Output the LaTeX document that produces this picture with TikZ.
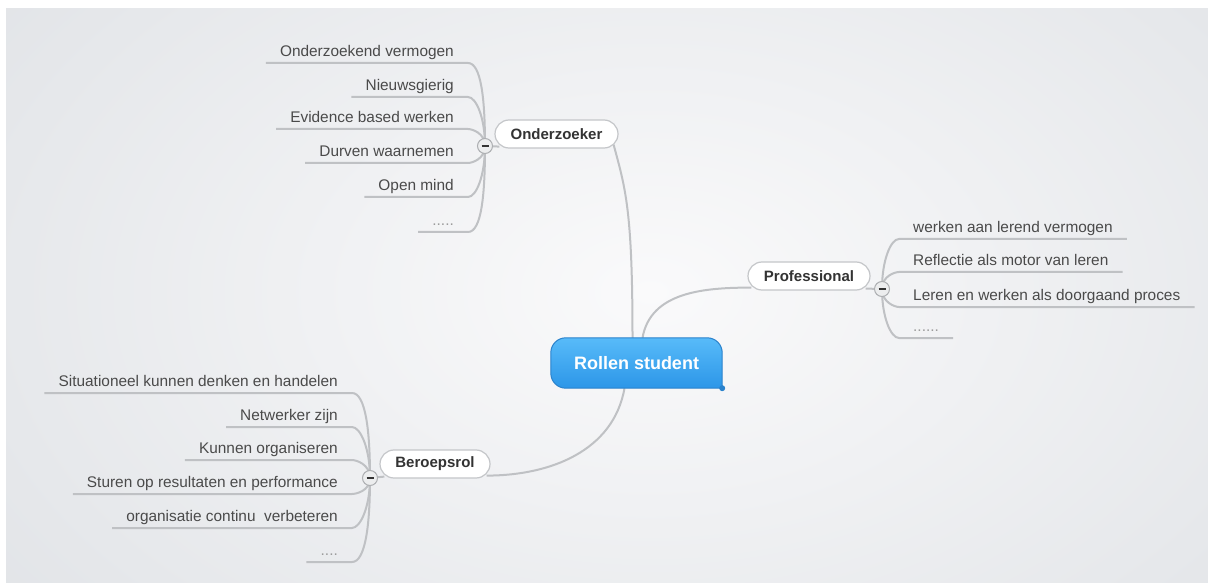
\documentclass[tikz,border=0pt]{standalone}
\usepackage{fontspec}
\setmainfont{Liberation Sans}
\usetikzlibrary{backgrounds}
\definecolor{bggray}{HTML}{DCDFE3}
\definecolor{bglight}{HTML}{FAFAFB}
\definecolor{linegray}{HTML}{BFC1C4}
\definecolor{leafgray}{HTML}{4A4A4A}
\definecolor{topicgray}{HTML}{333333}
\definecolor{pillgray}{HTML}{C4C6C9}
\definecolor{hubgray}{HTML}{ADAFB2}
\definecolor{hubfill}{HTML}{ECEDEE}
\definecolor{rootlight}{HTML}{58BBF9}
\definecolor{rootdark}{HTML}{2C96E8}
\definecolor{rootedge}{HTML}{2A82CC}

\begin{document}
\begin{tikzpicture}[x=1pt, y=1pt,
    branch/.style={draw=linegray, line width=2pt},
    leaf/.style={inner xsep=14pt, inner ysep=3pt, text height=11pt, text depth=3pt,
        font=\fontsize{15.4}{18}\selectfont, text=leafgray},
    dots/.style={leaf, text=leafgray!55},
    topic/.style={draw=pillgray, fill=white, rounded corners=14pt, minimum height=28pt,
        inner xsep=0pt, line width=1.2pt, font=\fontsize{15}{18}\selectfont\bfseries, text=topicgray},
    hub/.style={circle, draw=hubgray, fill=hubfill, minimum size=15pt, inner sep=0pt, line width=1pt,
        path picture={\draw[line width=1.6pt, topicgray] (path picture bounding box.center) +(-3.5pt,0) -- +(3.5pt,0);}},
    toleft/.style={in=0, out looseness=1.4, in looseness=0.4},
    toright/.style={in=180, out looseness=1.4, in looseness=0.4}]
    \useasboundingbox (0,0) rectangle (1208,582);
    % background panel
    \begin{scope}[on background layer]
        \fill[white] (0,0) rectangle (1208,582);
        \begin{scope}
            \clip (6,0) rectangle (1208,573);
            \fill[bggray] (6,0) rectangle (1208,573);
            \shade[inner color=bglight, outer color=bggray] (650,290) ellipse [x radius=1000, y radius=640];
        \end{scope}
    \end{scope}

    % central topic and main branches
    \node [minimum width=171pt, minimum height=50pt, inner sep=0pt, text=white,
        font=\fontsize{18}{22}\selectfont\bfseries, name=root] at (636.5, 219) {Rollen student};
    \node [topic, minimum width=123pt, name=ond] at (556.5, 448) {Onderzoeker};
    \node [topic, minimum width=122pt, name=prof] at (809, 306) {Professional};
    \node [topic, minimum width=110pt, name=ber] at (435, 118) {Beroepsrol};
    \node [hub, name=ond_hub] at (485, 436) {};
    \node [hub, name=prof_hub] at (882, 293) {};
    \node [hub, name=ber_hub] at (370, 104) {};

    % Onderzoeker
    \node [leaf, anchor=south east, name=ond_1] at (468, 519) {Onderzoekend vermogen};
    \node [leaf, anchor=south east, name=ond_2] at (468, 485) {Nieuwsgierig};
    \node [leaf, anchor=south east, name=ond_3] at (468, 453) {Evidence based werken};
    \node [leaf, anchor=south east, name=ond_4] at (468, 419) {Durven waarnemen};
    \node [leaf, anchor=south east, name=ond_5] at (468, 385) {Open mind};
    \node [dots, anchor=south east, name=ond_6] at (468, 350) {.....};

    % Professional
    \node [leaf, anchor=south west, name=prof_1] at (899, 343) {werken aan lerend vermogen};
    \node [leaf, anchor=south west, name=prof_2] at (899, 310) {Reflectie als motor van leren};
    \node [leaf, anchor=south west, name=prof_3] at (899, 275) {Leren en werken als doorgaand proces};
    \node [dots, anchor=south west, name=prof_4] at (899, 244) {......};

    % Beroepsrol
    \node [leaf, anchor=south east, name=ber_1] at (352, 189) {Situationeel kunnen denken en handelen};
    \node [leaf, anchor=south east, name=ber_2] at (352, 155) {Netwerker zijn};
    \node [leaf, anchor=south east, name=ber_3] at (352, 122) {Kunnen organiseren};
    \node [leaf, anchor=south east, name=ber_4] at (352, 88) {Sturen op resultaten en performance};
    \node [leaf, anchor=south east, name=ber_5] at (352, 54) {organisatie continu\ \ verbeteren};
    \node [dots, anchor=south east, name=ber_6] at (352, 20) {....};

    \begin{scope}[on background layer]
        \draw [branch] ([xshift=-4pt]root.north) to[out=90, in=-75, out looseness=1.7, in looseness=0.6] ([xshift=-5pt, yshift=4pt]ond.south east);
        \draw [branch] ([xshift=6pt]root.north) to[out=80, in=180] ([xshift=4pt, yshift=3pt]prof.south west);
        \draw [branch] ([xshift=-12pt]root.south) to[out=-100, in=0] ([xshift=-4pt, yshift=3pt]ber.south east);
        \draw [branch] (ond_hub.center) -- ([xshift=5pt, yshift=2pt]ond.south west);
        \draw [branch] (prof_hub.center) -- ([xshift=-5pt, yshift=2pt]prof.south east);
        \draw [branch] (ber_hub.center) -- ([xshift=5pt, yshift=2pt]ber.south west);

        \draw [branch] (ond_hub.center) to[out=90, toleft] (ond_1.south east) -- (ond_1.south west);
        \draw [branch] (ond_hub.center) to[out=90, toleft] (ond_2.south east) -- (ond_2.south west);
        \draw [branch] (ond_hub.center) to[out=90, toleft] (ond_3.south east) -- (ond_3.south west);
        \draw [branch] (ond_hub.center) to[out=-90, toleft] (ond_4.south east) -- (ond_4.south west);
        \draw [branch] (ond_hub.center) to[out=-90, toleft] (ond_5.south east) -- (ond_5.south west);
        \draw [branch] (ond_hub.center) to[out=-90, toleft] (ond_6.south east) -- (ond_6.south west);

        \draw [branch] (prof_hub.center) to[out=90, toright] (prof_1.south west) -- (prof_1.south east);
        \draw [branch] (prof_hub.center) to[out=90, toright] (prof_2.south west) -- (prof_2.south east);
        \draw [branch] (prof_hub.center) to[out=-90, toright] (prof_3.south west) -- (prof_3.south east);
        \draw [branch] (prof_hub.center) to[out=-90, toright] (prof_4.south west) -- (prof_4.south east);

        \draw [branch] (ber_hub.center) to[out=90, toleft] (ber_1.south east) -- (ber_1.south west);
        \draw [branch] (ber_hub.center) to[out=90, toleft] (ber_2.south east) -- (ber_2.south west);
        \draw [branch] (ber_hub.center) to[out=90, toleft] (ber_3.south east) -- (ber_3.south west);
        \draw [branch] (ber_hub.center) to[out=-90, toleft] (ber_4.south east) -- (ber_4.south west);
        \draw [branch] (ber_hub.center) to[out=-90, toleft] (ber_5.south east) -- (ber_5.south west);
        \draw [branch] (ber_hub.center) to[out=-90, toleft] (ber_6.south east) -- (ber_6.south west);

        % bubble of the central topic, square at its lower right
        \path [top color=rootlight, bottom color=rootdark, draw=rootedge, line width=1pt]
            (root.south east) -- ([xshift=15pt]root.south west)
            arc [start angle=270, end angle=180, radius=15pt] -- ([yshift=-15pt]root.north west)
            arc [start angle=180, end angle=90, radius=15pt] -- ([xshift=-15pt]root.north east)
            arc [start angle=90, end angle=0, radius=15pt] -- cycle;
        \fill [rootedge] (root.south east) circle [radius=3pt];
    \end{scope}
\end{tikzpicture}
\end{document}
